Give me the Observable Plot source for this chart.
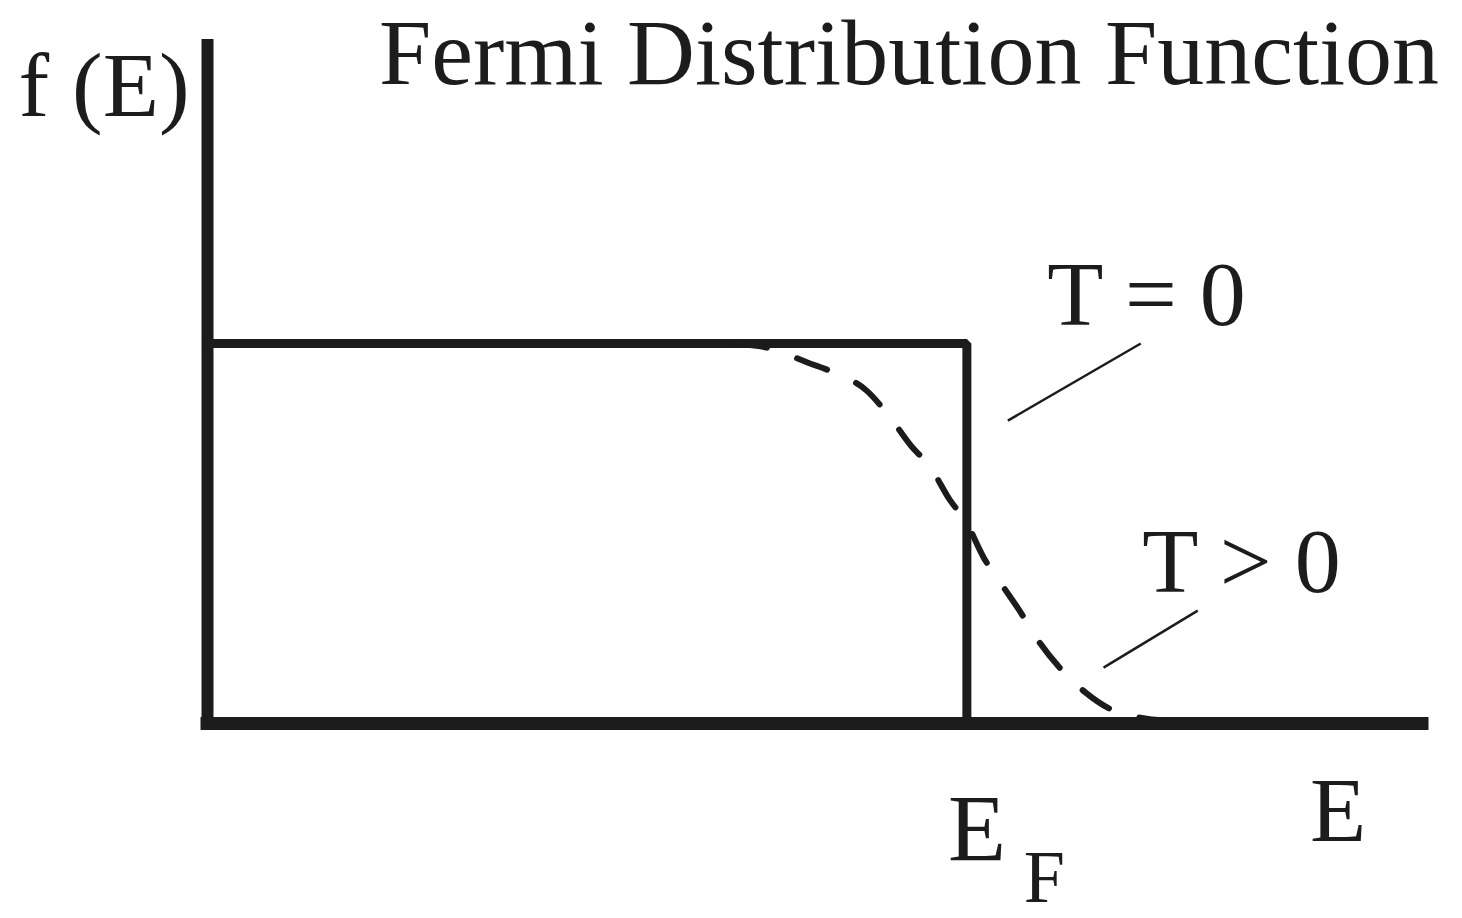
<!DOCTYPE html>
<html>
<head>
<meta charset="utf-8">
<script src="https://cdn.jsdelivr.net/npm/d3@7"></script>
<script src="https://cdn.jsdelivr.net/npm/@observablehq/plot@0.6"></script>
<style>
  html, body { margin: 0; padding: 0; background: #ffffff; }
  #wrap { position: relative; width: 1462px; height: 918px; }
  #chart svg { display: block; overflow: visible; }
  #title {
    position: absolute; left: 379px; top: 0px;
    font-family: 'Liberation Serif', 'Times New Roman', serif;
    font-size: 94px; line-height: 105px; color: #1c1c1c; white-space: nowrap;
  }
</style>
</head>
<body>
<div id="wrap">
  <div id="chart"></div>
  <div id="title"></div>
</div>
<script>
// T = 0 step distribution (energy, occupation)
const stepE = [0, 1, 1];
const stepF = [1, 1, 0];

// T > 0 smeared distribution
const warmE = [0.695, 0.741, 0.790, 0.828, 0.868, 0.899, 0.926, 0.952, 0.978, 0.998, 1.022, 1.044, 1.071, 1.094, 1.123, 1.156, 1.193, 1.235, 1.255];
const warmF = [1.000, 0.987, 0.950, 0.921, 0.876, 0.805, 0.732, 0.674, 0.587, 0.534, 0.437, 0.371, 0.292, 0.218, 0.145, 0.082, 0.034, 0.013, 0.008];

// Leader lines for the labels
const leaderLabel = ["T = 0", "T > 0"];
const leaderE1 = [1.054, 1.180];
const leaderF1 = [0.797, 0.147];
const leaderE2 = [1.229, 1.304];
const leaderF2 = [1.000, 0.297];

// Text labels
const labelText = ["T = 0", "T > 0", "E", "f (E)"];
const labelE = [1.106, 1.231, 1.452, -0.249];
const labelF = [1.05, 0.347, -0.308, 1.60];

const title = "Fermi Distribution Function";
const fermiLabel = "E";
const fermiSub = "F";

const ink = "#1c1c1c";
const serif = "'Liberation Serif', 'Times New Roman', serif";

const stepData = stepE.map((e, i) => ({E: e, f: stepF[i]}));
const warmData = warmE.map((e, i) => ({E: e, f: warmF[i]}));
const leaders = leaderLabel.map((l, i) => ({label: l, x1: leaderE1[i], y1: leaderF1[i], x2: leaderE2[i], y2: leaderF2[i]}));
const labels = labelText.map((t, i) => ({text: t, E: labelE[i], f: labelF[i]}));

const chart = Plot.plot({
  width: 1462,
  height: 918,
  marginLeft: 207,
  marginRight: 40,
  marginTop: 39,
  marginBottom: 195,
  style: {background: "#ffffff", color: ink, fontFamily: serif, overflow: "visible"},
  x: {domain: [0, 1.6], axis: null},
  y: {domain: [0, 1.8], axis: null},
  marks: [
    // axes
    Plot.ruleX([0], {y1: 0, y2: 1.8, stroke: ink, strokeWidth: 12}),
    Plot.ruleY([0], {x1: 0, x2: 1.6, stroke: ink, strokeWidth: 13, strokeLinecap: "square"}),
    // T = 0 step
    Plot.line(stepData, {x: "E", y: "f", stroke: ink, strokeWidth: 9, strokeLinejoin: "miter", curve: "linear"}),
    // T > 0 dashed curve
    Plot.line(warmData, {x: "E", y: "f", stroke: ink, strokeWidth: 6, strokeDasharray: "32,32", curve: "monotone-x"}),
    // leader lines
    Plot.link(leaders, {x1: "x1", y1: "y1", x2: "x2", y2: "y2", stroke: ink, strokeWidth: 2.5}),
    // labels
    Plot.text(labels, {x: "E", y: "f", text: "text", textAnchor: "start", lineAnchor: "bottom", fontSize: 92, fill: ink, fontFamily: serif}),
    Plot.text([fermiLabel], {x: 0.975, y: -0.361, text: d => d, textAnchor: "start", lineAnchor: "bottom", fontSize: 95, fill: ink, fontFamily: serif}),
    Plot.text([fermiSub], {x: 1.075, y: -0.471, text: d => d, textAnchor: "start", lineAnchor: "bottom", fontSize: 74, fill: ink, fontFamily: serif})
  ]
});
document.getElementById("chart").appendChild(chart);
document.getElementById("title").textContent = title;
</script>
</body>
</html>
